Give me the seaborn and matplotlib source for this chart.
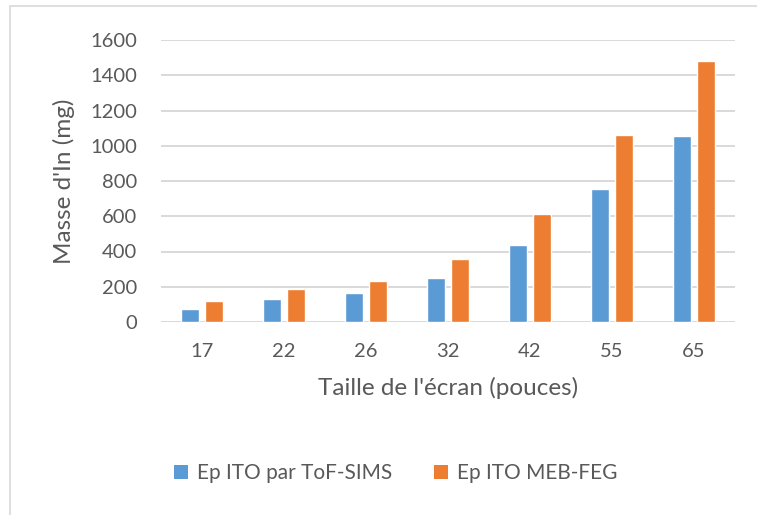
import matplotlib
matplotlib.use("Agg")
import matplotlib.pyplot as plt
from matplotlib.patches import Rectangle, Patch
import seaborn as sns
import pandas as pd

# Screen sizes (inches) and indium mass (mg) for the two ITO thickness estimates
sizes = ["17", "22", "26", "32", "42", "55", "65"]
tofsims = [74, 133, 166, 250, 438, 753, 1054]
mebfeg = [118, 186, 232, 356, 615, 1062, 1482]
series_names = ["Ep ITO par ToF-SIMS", "Ep ITO MEB-FEG"]
yticks = [0, 200, 400, 600, 800, 1000, 1200, 1400, 1600]

colors = ["#5B9BD5", "#ED7D31"]
text_color = "#595959"
grid_color = "#D9D9D9"

df = pd.DataFrame({
    "taille": sizes * 2,
    "masse": tofsims + mebfeg,
    "serie": [series_names[0]] * len(sizes) + [series_names[1]] * len(sizes),
})

sns.set_theme(style="white")
plt.rcParams["font.family"] = ["Lato", "DejaVu Sans"]

fig = plt.figure(figsize=(7.57, 5.15), dpi=100)
ax = fig.add_axes([161 / 757, 1 - 322 / 515, (735 - 161) / 757, (322 - 40) / 515])

sns.barplot(data=df, x="taille", y="masse", hue="serie", order=sizes,
            hue_order=series_names, palette=colors, width=0.585, gap=0.25,
            saturation=1, ax=ax, legend=False, zorder=3)

ax.set_ylim(0, 1600)
ax.set_yticks(yticks)
ax.set_yticklabels([str(v) for v in yticks])
ax.set_xlim(-0.5, len(sizes) - 0.5)
ax.yaxis.grid(True, color=grid_color, linewidth=1.4, zorder=0)
ax.set_axisbelow(True)
for s in ax.spines.values():
    s.set_visible(False)
ax.axhline(0, color=grid_color, linewidth=1.4, zorder=1)

ax.tick_params(axis="both", length=0, labelsize=14.5, labelcolor=text_color)
ax.tick_params(axis="y", pad=17)
ax.tick_params(axis="x", pad=15)

ax.set_ylabel("Masse d'In (mg)", fontsize=17.5, color=text_color, labelpad=11)
ax.set_xlabel("Taille de l'écran (pouces)", fontsize=17.5, color=text_color, labelpad=12)

handles = [Patch(facecolor=c, edgecolor="none") for c in colors]
fig.legend(handles, series_names, loc="center", bbox_to_anchor=(0.523, 1 - 473 / 515),
           ncol=2, frameon=False, fontsize=15, labelcolor=text_color,
           handlelength=0.65, handleheight=0.65, handletextpad=0.45, columnspacing=2.0)

# light chart-area border along the top and left edges
fig.patches.append(Rectangle((10 / 757, -0.1), 1.2, 1.1 - 6 / 515,
                             transform=fig.transFigure, fill=False,
                             edgecolor=grid_color, linewidth=1.2))

fig.savefig("out.png", dpi=100, facecolor="white")
